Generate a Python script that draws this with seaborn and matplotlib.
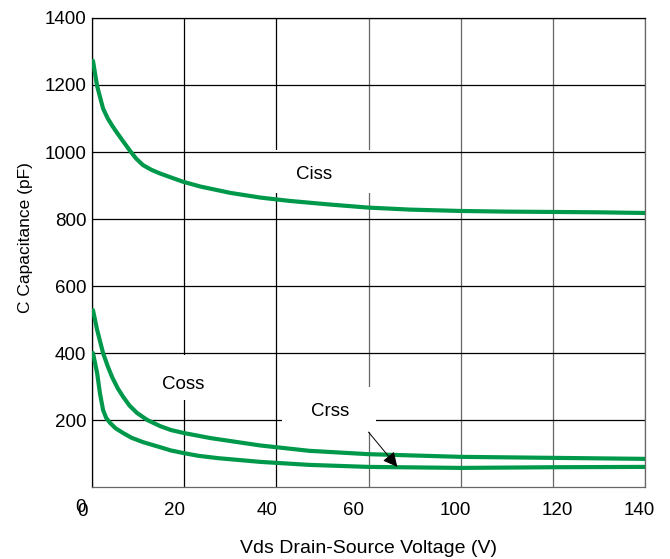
import matplotlib
matplotlib.use('Agg')
import matplotlib.pyplot as plt
from matplotlib.patches import Rectangle
import seaborn as sns
import pandas as pd

# capacitance vs drain-source voltage
ciss_v = [0.25, 1.3, 2.8, 4.0, 5.2, 6.3, 8.0, 9.6, 11.2, 12.9, 15.0, 17.2, 20.0, 23.1, 27.4, 35.0, 42.6, 50.0, 60.4, 70.0, 80.6, 93.3, 105.0, 116.9, 128.0, 140.0]
ciss_c = [1272, 1197, 1130, 1100, 1077, 1058, 1030, 1004, 980, 961, 947, 936, 924, 911, 897, 878, 864, 854, 843, 834, 828, 824, 822, 821, 820, 818]

coss_v = [0.25, 1.3, 2.8, 4.0, 5.1, 6.5, 7.9, 9.5, 11.4, 14.0, 17.2, 20.0, 23.3, 30.0, 42.6, 55.0, 70.0, 93.3, 116.7, 140.0]
coss_c = [528, 469, 400, 360, 328, 295, 269, 243, 221, 200, 182, 170, 161, 146, 124, 108, 98, 90, 87, 84]

crss_v = [0.25, 1.3, 2.0, 2.8, 3.6, 4.6, 6.0, 7.9, 10.0, 12.9, 17.2, 20.0, 23.3, 27.0, 32.0, 42.6, 55.0, 70.0, 93.3, 116.7, 140.0]
crss_c = [400, 340, 281, 230, 206, 191, 175, 161, 147, 134, 119, 109, 101, 93, 86, 75, 66, 60, 57, 59, 60]

grid_x = [0, 140 / 6, 280 / 6, 70, 560 / 6, 700 / 6, 140]
grid_color = ['black', 'black', 'black', '#666666', '#666666', '#666666', '#666666']
y_ticks = [200, 400, 600, 800, 1000, 1200, 1400]
x_tick_pos = [21.0, 44.4, 66.2, 92.1, 117.9, 138.5]
x_tick_lab = ['20', '40', '60', '100', '120', '140']

green = '#00994C'

sns.set_style('white')
plt.rcParams['font.family'] = ['Liberation Sans', 'DejaVu Sans']
plt.rcParams['text.color'] = 'black'
plt.rcParams['axes.labelcolor'] = 'black'
plt.rcParams['xtick.color'] = 'black'
plt.rcParams['ytick.color'] = 'black'

fig = plt.figure(figsize=(6.7, 5.59), dpi=100)
ax = fig.add_axes([0.1373, 0.1288, 0.8254, 0.839])

# vertical grid first, then white label boxes, then horizontal grid
for gx, gc in zip(grid_x, grid_color):
    ax.axvline(gx, color=gc, lw=0.9, zorder=1)

ax.add_patch(Rectangle((45.6, 878), 27.4, 128, facecolor='white', edgecolor='none', zorder=1.5))
ax.add_patch(Rectangle((14.7, 260), 17.8, 134, facecolor='white', edgecolor='none', zorder=1.5))

for gy in y_ticks:
    ax.axhline(gy, color='black', lw=0.9, zorder=2)

ax.add_patch(Rectangle((48.2, 164), 23.8, 134, facecolor='white', edgecolor='none', zorder=2.5))

for v, c in [(ciss_v, ciss_c), (coss_v, coss_c), (crss_v, crss_c)]:
    df = pd.DataFrame({'V': v, 'C': c})
    sns.lineplot(data=df, x='V', y='C', ax=ax, color=green, lw=3, sort=False, zorder=4)

ax.text(56.3, 934, 'Ciss', fontsize=13.5, ha='center', va='center', zorder=3)
ax.text(23.1, 307, 'Coss', fontsize=13.5, ha='center', va='center', zorder=3)
ax.text(60.4, 224, 'Crss', fontsize=13.5, ha='center', va='center', zorder=3)

ax.annotate('', xy=(77.3, 60), xytext=(70.0, 164),
            arrowprops=dict(arrowstyle='-|>', color='black', lw=0.7, mutation_scale=22,
                            shrinkA=0, shrinkB=0), zorder=5)

ax.set_xlim(0, 140)
ax.set_ylim(0, 1400)
ax.set_xticks(x_tick_pos)
ax.set_xticklabels(x_tick_lab)
ax.set_yticks(y_ticks)
ax.tick_params(axis='both', length=0, labelsize=13.5)
ax.tick_params(axis='x', pad=11)
ax.tick_params(axis='y', pad=4)

# the two overlapping zeros at the origin
ax.text(-2.9, -60, '0', fontsize=13.5, ha='center', va='center', clip_on=False)
ax.text(-2.4, -74, '0', fontsize=13.5, ha='center', va='center', clip_on=False)

ax.set_xlabel('Vds Drain-Source Voltage (V)', fontsize=14)
ax.set_ylabel('C Capacitance (pF)', fontsize=12.5)
ax.xaxis.set_label_coords(0.5, -0.114)
ax.yaxis.set_label_coords(-0.107, 0.531)

for side in ['left', 'top']:
    ax.spines[side].set_color('black')
for side in ['right', 'bottom']:
    ax.spines[side].set_color('#666666')
for s in ax.spines.values():
    s.set_linewidth(0.9)
    s.set_zorder(2)

fig.savefig('out.png', dpi=100)
